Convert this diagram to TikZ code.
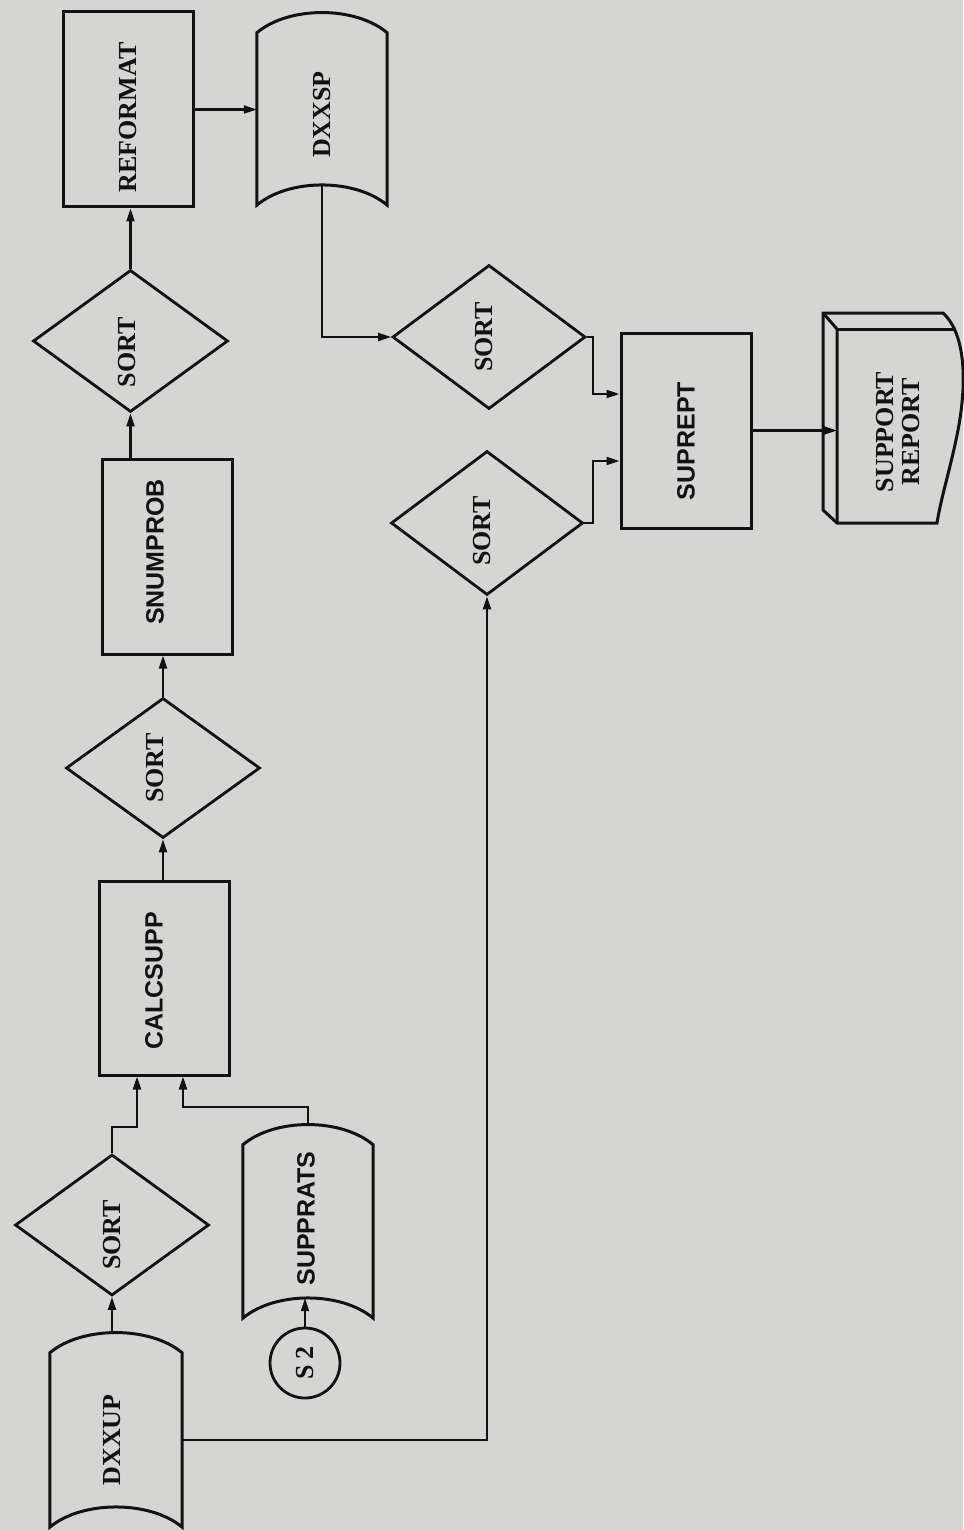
\documentclass[tikz,border=0pt]{standalone}
\usepackage{fontspec}
\usepackage{graphicx}
\setmainfont{Liberation Serif}
\setsansfont{Liberation Sans}
\usetikzlibrary{shapes.geometric,arrows.meta}

\definecolor{paper}{RGB}{213,213,211}
\definecolor{ink}{RGB}{18,18,18}

\tikzset{
  box/.style={draw=ink, line width=3pt, line join=miter, rectangle, inner sep=0pt, minimum width=130pt},
  decision/.style={draw=ink, line width=2.8pt, line join=miter, diamond, inner sep=0pt},
  connector/.style={draw=ink, line width=2.8pt, circle, inner sep=0pt, minimum size=70pt},
  storeslot/.style={rectangle, inner sep=0pt},
  shapeline/.style={draw=ink, line width=3pt, line join=miter},
  flow/.style={draw=ink, line width=2.1pt, -{Triangle[length=13pt,width=8pt]}},
  seriflabel/.style={text=ink, font=\fontsize{26}{29}\selectfont\bfseries},
  sanslabel/.style={text=ink, font=\fontsize{25}{28}\selectfont\sffamily\bfseries},
}

% Text turned to read upwards; #1 moves it along the text (twice the
% shift), #2 moves it across the text (twice the shift).
\newcommand\vtext[3]{\rotatebox{90}{\raisebox{0pt}[\height][#2]{\hspace*{#1}#3}}}

% Outline of a stored-data symbol fitted to a storeslot node.
\newcommand\drawstore[1]{%
  \draw[shapeline] (#1.north west)
    .. controls ([xshift=32pt,yshift=27pt]#1.north west) and ([xshift=-32pt,yshift=27pt]#1.north east) .. (#1.north east)
    -- (#1.south east)
    .. controls ([xshift=-32pt,yshift=27pt]#1.south east) and ([xshift=32pt,yshift=27pt]#1.south west) .. (#1.south west)
    -- cycle;}

\begin{document}
\begin{tikzpicture}[x=1pt,y=-1pt]
\fill[paper] (0,0) rectangle (963,1530);
\useasboundingbox (0,0) rectangle (963,1530);

% ---- input files and first sort ----
\node[storeslot, minimum width=132pt, minimum height=174pt, seriflabel] (dxxup) at (116,1440) {\vtext{0pt}{8pt}{DXXUP}};
\drawstore{dxxup}
\coordinate (dxxup-top) at ([yshift=20pt]dxxup.north);

\node[decision, minimum width=194pt, minimum height=141pt, seriflabel] (sort1) at (112,1225) {\vtext{-20pt}{0pt}{SORT}};

\node[connector, seriflabel] (s2) at (305,1363) {\vtext{0pt}{0pt}{S 2}};

\node[storeslot, minimum width=130pt, minimum height=173pt, sanslabel] (supprats) at (308,1231.5) {\vtext{26pt}{4pt}{SUPPRATS}};
\drawstore{supprats}
\coordinate (supprats-top) at ([yshift=20pt]supprats.north);
\coordinate (supprats-bot) at ([yshift=20pt]supprats.south);

% ---- main processing column ----
\node[box, minimum height=194pt, sanslabel] (calcsupp) at (164,978) {\vtext{-6pt}{20pt}{CALCSUPP}};
\node[decision, minimum width=194pt, minimum height=140pt, seriflabel] (sort2) at (163,768) {\vtext{0pt}{17pt}{SORT}};
\node[box, minimum height=195pt, sanslabel] (snumprob) at (167,556.5) {\vtext{9pt}{24pt}{SNUMPROB}};
\node[decision, minimum width=195pt, minimum height=142pt, seriflabel] (sort3) at (130.5,341) {\vtext{-23pt}{7pt}{SORT}};
\node[box, minimum height=195pt, seriflabel] (reformat) at (128,109.5) {\vtext{-16pt}{0pt}{REFORMAT}};

\node[storeslot, minimum width=130pt, minimum height=172pt, seriflabel] (dxxsp) at (322,119) {\vtext{9pt}{0pt}{DXXSP}};
\drawstore{dxxsp}
\coordinate (dxxsp-bot) at ([yshift=20pt]dxxsp.south);

% ---- report branch ----
\node[decision, minimum width=193pt, minimum height=144pt, seriflabel] (sort4) at (489,337) {\vtext{0pt}{10pt}{SORT}};
\node[decision, minimum width=192pt, minimum height=144pt, seriflabel] (sort5) at (487,523) {\vtext{-16pt}{10pt}{SORT}};
\node[box, minimum height=195pt, sanslabel] (suprept) at (686,430.5) {\vtext{-21pt}{-14pt}{SUPREPT}};

% printed report symbol
\draw[shapeline] (823,313) -- (943,313)
  .. controls (966,334) and (968,385) .. (956,440)
  .. controls (949,473) and (941,498) .. (937,523)
  -- (837,523) -- (823,510) -- cycle;
\draw[shapeline] (823,313) -- (837,329) -- (837,523);
\draw[shapeline] (837,329) -- (954,329);
\node[seriflabel, align=center] (report) at (901,432) {\rotatebox{90}{\begin{tabular}{@{}c@{}}SUPPORT\\[-3pt]REPORT\end{tabular}}};
\coordinate (report-in) at (837,428);

% ---- connectors ----
\coordinate (j1) at (137,1127);
\coordinate (j2) at (183,1107);
\coordinate (j3) at (593,394);
\coordinate (j4) at (593,461);

\draw[flow] (sort1.south |- dxxup-top) -- (sort1.south);
\draw[flow] (s2.north) -- (s2.north |- supprats-bot);
\draw[flow] (sort1.north) |- (j1) -- (j1 |- calcsupp.south);
\draw[flow] (supprats-top) |- (j2) -- (j2 |- calcsupp.south);
\draw[flow] (calcsupp.north -| sort2.south) -- (sort2.south);
\draw[flow] (sort2.north) -- (sort2.north |- snumprob.south);
\draw[flow] (snumprob.north -| sort3.south) -- (sort3.south);
\draw[flow] (sort3.north) -- (sort3.north |- reformat.south);
\draw[flow] (reformat.east) -- (reformat.east -| dxxsp.west);
\draw[flow] (dxxsp-bot) |- (sort4.west);
\draw[flow] (dxxup.east) -| (sort5.south);
\draw[flow] (sort4.east) -| (j3) -- (j3 -| suprept.west);
\draw[flow] (sort5.east) -| (j4) -- (j4 -| suprept.west);
\draw[flow] (suprept.east) -- (suprept.east -| report-in);
\end{tikzpicture}
\end{document}
